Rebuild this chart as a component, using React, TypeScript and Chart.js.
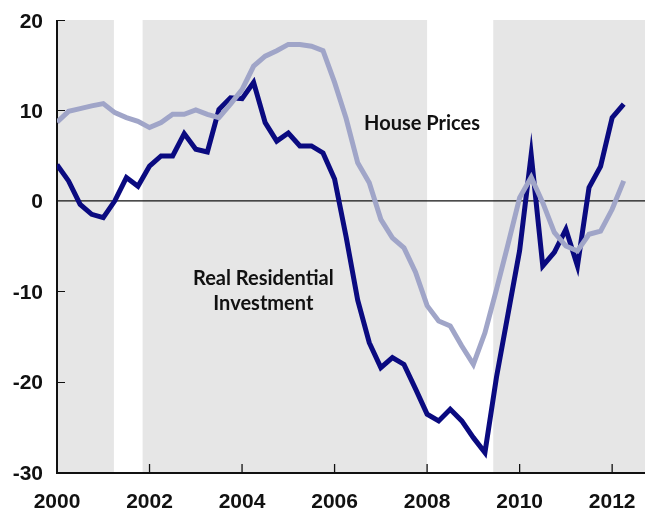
import React, { useEffect, useRef } from "react";
import { Chart, registerables } from "chart.js";

Chart.register(...registerables);

// ---- Data (quarterly, 2000Q1 .. 2012Q2), percent change ----
const START_YEAR = 2000;
const investment = [
  4.0, 2.2, -0.4, -1.5, -1.86, 0.0, 2.57, 1.6, 3.85, 4.96, 4.96, 7.43, 5.7, 5.4, 10.1, 11.4,
  11.3, 13.1, 8.65, 6.6, 7.5, 6.07, 6.07, 5.3, 2.4, -4.0, -11.0, -15.7, -18.45, -17.35, -18.1,
  -20.8, -23.6, -24.35, -23.06, -24.35, -26.2, -27.85, -19.5, -12.5, -5.5, 5.1, -7.2, -5.7,
  -3.15, -7.2, 1.46, 3.8, 9.2, 10.7,
];
const housePrices = [
  8.7, 9.9, 10.2, 10.5, 10.75, 9.75, 9.2, 8.8, 8.1, 8.65, 9.57, 9.57, 10.05, 9.57, 9.2, 10.7,
  12.3, 14.9, 16.0, 16.6, 17.3, 17.3, 17.1, 16.6, 13.1, 9.1, 4.2, 2.0, -2.05, -4.1, -5.2, -7.9,
  -11.6, -13.3, -13.85, -16.06, -18.1, -14.6, -9.8, -4.8, 0.35, 2.6, -0.2, -3.5, -5.0, -5.55,
  -3.7, -3.35, -0.94, 2.2,
];
const shadedPeriods: [number, number][] = [
  [2000, 2001.23],
  [2001.85, 2008.0],
  [2009.43, 2012.71],
];
const xTicks = [2000, 2002, 2004, 2006, 2008, 2010, 2012];
const yTicks = [-30, -20, -10, 0, 10, 20];
const xMin = 2000;
const xMax = 2012.71;
const yMin = -30;
const yMax = 20;

const labelHouse = { text: ["House Prices"], x: 2007.89, y: 7.83 };
const labelInvest = { text: ["Real Residential", "Investment"], x: 2004.46, y: -9.31 };

const DARK = "#0a0a80";
const LIGHT = "#a0a5c8";
const SHADE = "#e6e6e6";
const TICK_FONT = "bold 21px 'Liberation Sans', Arial, sans-serif";
const NOTE_FONT = "bold 20px Lato, 'Liberation Sans', sans-serif";

const toPoints = (arr: number[]) => arr.map((v, i) => ({ x: START_YEAR + i / 4, y: v }));

const decorPlugin = {
  id: "decor",
  beforeDraw(chart: any) {
    const { ctx, chartArea: a, scales } = chart;
    const x = scales.x;
    ctx.save();
    ctx.fillStyle = "#ffffff";
    ctx.fillRect(0, 0, chart.width, chart.height);
    ctx.fillStyle = SHADE;
    for (const [s, e] of shadedPeriods) {
      const x0 = x.getPixelForValue(s);
      const x1 = x.getPixelForValue(e);
      ctx.fillRect(x0, a.top, x1 - x0, a.bottom - a.top);
    }
    ctx.restore();
  },
  beforeDatasetsDraw(chart: any) {
    const { ctx, chartArea: a, scales } = chart;
    const x = scales.x;
    const y = scales.y;
    ctx.save();
    ctx.strokeStyle = "#111";
    // zero line
    const y0 = y.getPixelForValue(0);
    ctx.lineWidth = 1.2;
    ctx.beginPath();
    ctx.moveTo(a.left, y0);
    ctx.lineTo(a.right, y0);
    ctx.stroke();
    // y ticks (inside)
    ctx.lineWidth = 1;
    for (const v of yTicks) {
      if (v === 0 || v === yMin) continue;
      const py = Math.round(y.getPixelForValue(v)) + 0.5;
      ctx.beginPath();
      ctx.moveTo(a.left, py);
      ctx.lineTo(a.left + 8, py);
      ctx.stroke();
    }
    // x ticks (inside)
    ctx.lineWidth = 1.3;
    for (const v of xTicks) {
      if (v === xMin) continue;
      const px = x.getPixelForValue(v);
      ctx.beginPath();
      ctx.moveTo(px, a.bottom);
      ctx.lineTo(px, a.bottom - 8);
      ctx.stroke();
    }
    // axes
    ctx.lineWidth = 2;
    ctx.beginPath();
    ctx.moveTo(a.left, a.top);
    ctx.lineTo(a.left, a.bottom + 1);
    ctx.lineTo(a.right, a.bottom + 1);
    ctx.stroke();

    // tick labels
    ctx.fillStyle = "#111";
    ctx.font = TICK_FONT;
    ctx.textBaseline = "alphabetic";
    ctx.textAlign = "right";
    for (const v of yTicks) {
      const py = y.getPixelForValue(v);
      ctx.fillText(String(v), a.left - 14, py + 7.5);
    }
    ctx.textAlign = "center";
    for (const v of xTicks) {
      const px = x.getPixelForValue(v);
      ctx.fillText(String(v), px, a.bottom + 36);
    }
    ctx.restore();
  },
  afterDatasetsDraw(chart: any) {
    const { ctx, scales } = chart;
    const x = scales.x;
    const y = scales.y;
    ctx.save();
    ctx.fillStyle = "#111";
    ctx.font = NOTE_FONT;
    ctx.textAlign = "center";
    ctx.textBaseline = "alphabetic";
    for (const lab of [labelHouse, labelInvest]) {
      const px = x.getPixelForValue(lab.x);
      const py = y.getPixelForValue(lab.y);
      lab.text.forEach((t, i) => ctx.fillText(t, px, py + i * 25));
    }
    ctx.restore();
  },
};

export default function App() {
  const ref = useRef<HTMLCanvasElement | null>(null);
  useEffect(() => {
    document.body.style.margin = "0";
    const canvas = ref.current;
    if (!canvas) return;
    const chart = new Chart(canvas, {
      type: "line",
      data: {
        datasets: [
          {
            label: "House Prices",
            data: toPoints(housePrices),
            borderColor: LIGHT,
            borderWidth: 5,
            pointRadius: 0,
            tension: 0,
            borderJoinStyle: "miter",
            order: 0,
          },
          {
            label: "Real Residential Investment",
            data: toPoints(investment),
            borderColor: DARK,
            borderWidth: 5,
            pointRadius: 0,
            tension: 0,
            borderJoinStyle: "miter",
            order: 1,
          },
        ],
      },
      options: {
        animation: false,
        responsive: false,
        parsing: false as any,
        layout: { padding: { top: 20, right: 0, left: 0, bottom: 0 } },
        plugins: { legend: { display: false }, tooltip: { enabled: false } },
        scales: {
          x: {
            type: "linear",
            min: xMin,
            max: xMax,
            grid: { display: false },
            border: { display: false },
            ticks: { display: false },
            afterBuildTicks: (s: any) => {
              s.ticks = xTicks.map((v) => ({ value: v }));
            },
            afterFit: (s: any) => {
              s.height = 38;
              s.paddingLeft = 0;
              s.paddingRight = 0;
            },
          },
          y: {
            type: "linear",
            min: yMin,
            max: yMax,
            grid: { display: false },
            border: { display: false },
            ticks: { display: false },
            afterBuildTicks: (s: any) => {
              s.ticks = yTicks.map((v) => ({ value: v }));
            },
            afterFit: (s: any) => {
              s.width = 57;
              s.paddingTop = 0;
              s.paddingBottom = 0;
            },
          },
        },
      },
      plugins: [decorPlugin],
    });
    return () => chart.destroy();
  }, []);
  return (
    <div style={{ width: 645, height: 510 }}>
      <canvas ref={ref} width={645} height={510} style={{ display: "block" }} />
    </div>
  );
}
